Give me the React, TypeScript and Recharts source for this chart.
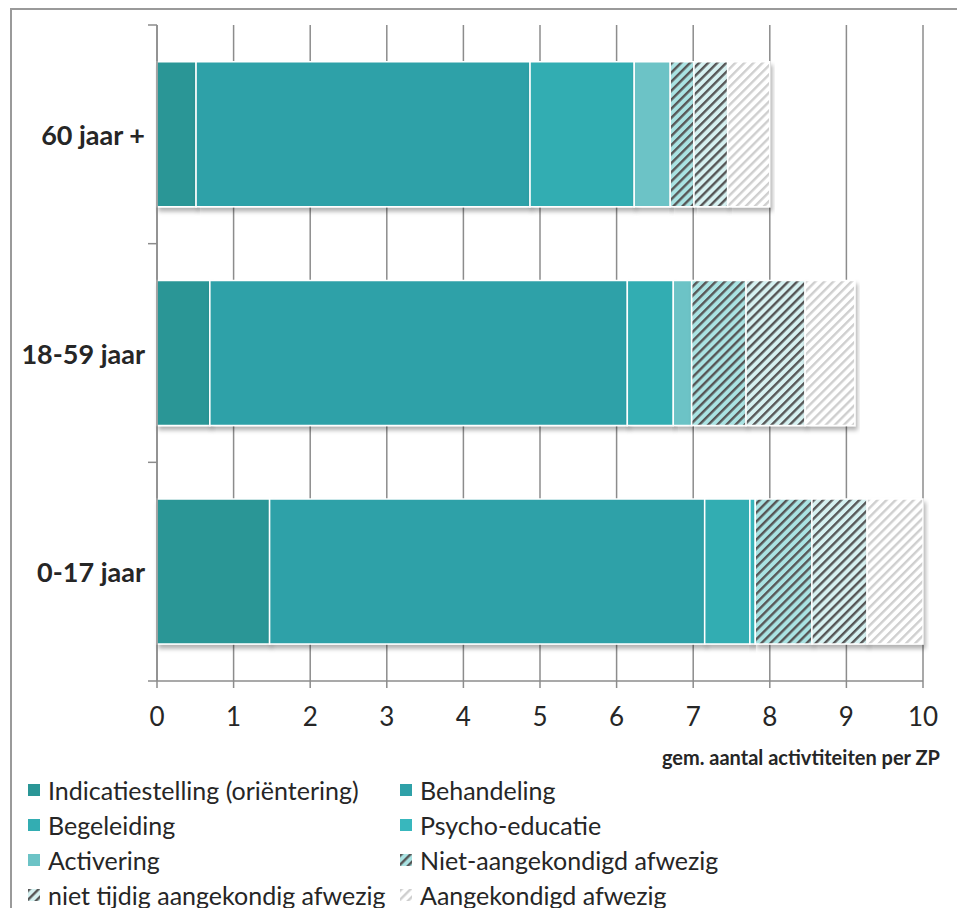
import React from 'react'
import { BarChart, Bar, XAxis, YAxis, CartesianGrid } from 'recharts'

const categories = ['60 jaar +', '18-59 jaar', '0-17 jaar']
const indicatie = [0.51, 0.69, 1.47]
const behandeling = [4.36, 5.45, 5.68]
const begeleiding = [1.36, 0.6, 0.59]
const psycho = [0, 0, 0.07]
const activering = [0.47, 0.24, 0]
const nietAangekondigd = [0.31, 0.71, 0.74]
const nietTijdig = [0.44, 0.77, 0.72]
const aangekondigd = [0.55, 0.65, 0.73]
const xTicks = [0, 1, 2, 3, 4, 5, 6, 7, 8, 9, 10]

const series = [
  { key: 'indicatie', name: 'Indicatiestelling (oriëntering)', fill: '#2a9696', values: indicatie },
  { key: 'behandeling', name: 'Behandeling', fill: '#2fa1a8', values: behandeling },
  { key: 'begeleiding', name: 'Begeleiding', fill: '#33adb2', values: begeleiding },
  { key: 'psycho', name: 'Psycho-educatie', fill: '#38b7bd', values: psycho },
  { key: 'activering', name: 'Activering', fill: '#6cc3c6', values: activering },
  { key: 'nietAangekondigd', name: 'Niet-aangekondigd afwezig', fill: 'url(#hatchA)', values: nietAangekondigd },
  { key: 'nietTijdig', name: 'niet tijdig aangekondig afwezig', fill: 'url(#hatchB)', values: nietTijdig },
  { key: 'aangekondigd', name: 'Aangekondigd afwezig', fill: 'url(#hatchC)', values: aangekondigd },
]

const data = categories.map((cat, i) => {
  const row: Record<string, string | number> = { cat }
  series.forEach((s) => (row[s.key] = s.values[i]))
  return row
})

const FONT = 'Lato, "Open Sans", sans-serif'
const AXIS_X = 157
const PLOT_TOP = 25
const PLOT_BOTTOM = 681
const BAND = (PLOT_BOTTOM - PLOT_TOP) / categories.length

function CategoryTick(props: any) {
  const { x, y, payload, index } = props
  return (
    <g>
      <text x={x} y={y} textAnchor="end" dominantBaseline="central" fontFamily={FONT} fontWeight={700} fontSize={27} fill="#262626">
        {payload.value}
      </text>
      <line x1={AXIS_X - 9} x2={AXIS_X} y1={y - BAND / 2} y2={y - BAND / 2} stroke="#8c8c8c" strokeWidth={1.5} />
      {index === categories.length - 1 && (
        <line x1={AXIS_X - 9} x2={AXIS_X} y1={y + BAND / 2} y2={y + BAND / 2} stroke="#8c8c8c" strokeWidth={1.5} />
      )}
    </g>
  )
}

function Defs() {
  const hatch = (id: string, bg: string, stripe: string) => (
    <pattern id={id} patternUnits="userSpaceOnUse" width={6.4} height={6.4} patternTransform="rotate(45)">
      <rect width={6.4} height={6.4} fill={bg} />
      <rect width={2.4} height={6.4} fill={stripe} />
    </pattern>
  )
  return (
    <svg width={0} height={0} style={{ position: 'absolute' }}>
      <defs>
        {hatch('hatchA', '#aae3e3', '#575757')}
        {hatch('hatchB', '#d6f1f1', '#575757')}
        {hatch('hatchC', '#ffffff', '#cfcfcf')}
        <filter id="barShadow" x="-5%" y="-5%" width="115%" height="125%">
          <feDropShadow dx={2} dy={4} stdDeviation={2} floodColor="#000" floodOpacity={0.3} />
        </filter>
      </defs>
    </svg>
  )
}

function LegendItem({ name, fill }: { name: string; fill: string }) {
  return (
    <div style={{ display: 'flex', alignItems: 'center', height: 35 }}>
      <svg width={12} height={12} style={{ marginRight: 8 }}>
        <rect width={12} height={12} fill={fill} />
      </svg>
      <span>{name}</span>
    </div>
  )
}

export default function App() {
  return (
    <div style={{ position: 'absolute', left: 0, top: 0, width: 957, height: 908, background: '#fff', overflow: 'hidden', fontFamily: FONT }}>
      <Defs />
      <style>{'.recharts-bar-rectangle { filter: url(#barShadow); }'}</style>
      <div style={{ position: 'absolute', left: 10, top: 8, width: 960, height: 920, borderLeft: '2px solid #9a9a9a', borderTop: '2px solid #9a9a9a' }} />
      <div style={{ position: 'absolute', left: 0, top: 0 }}>
        <BarChart
          width={957}
          height={760}
          data={data}
          layout="vertical"
          barCategoryGap="16.8%"
          margin={{ top: PLOT_TOP, right: 34, left: 0, bottom: 39 }}
        >
          <CartesianGrid horizontal={false} stroke="#8c8c8c" strokeWidth={1.5} />
          <XAxis
            type="number"
            domain={[0, 10]}
            ticks={xTicks}
            height={40}
            axisLine={{ stroke: '#8c8c8c', strokeWidth: 1.5 }}
            tickLine={{ stroke: '#8c8c8c', strokeWidth: 1.5 }}
            tickSize={7}
            tickMargin={20}
            tick={{ fontSize: 26, fill: '#262626', fontFamily: FONT }}
          />
          <YAxis
            type="category"
            dataKey="cat"
            width={AXIS_X}
            axisLine={{ stroke: '#8c8c8c', strokeWidth: 1.5 }}
            tickLine={false}
            tickSize={0}
            tickMargin={12}
            tick={<CategoryTick />}
          />
          {series.map((s) => (
            <Bar key={s.key} dataKey={s.key} name={s.name} stackId="a" fill={s.fill} stroke="#ffffff" strokeWidth={1.5} isAnimationActive={false} />
          ))}
        </BarChart>
      </div>
      <div style={{ position: 'absolute', right: 17, top: 745, fontSize: 20, fontWeight: 700, color: '#262626' }}>
        gem. aantal activtiteiten per ZP
      </div>
      <div style={{ position: 'absolute', left: 28, top: 772, fontSize: 25, color: '#262626', display: 'grid', gridTemplateColumns: '372px auto' }}>
        {series.map((s) => (
          <LegendItem key={s.key} name={s.name} fill={s.fill} />
        ))}
      </div>
    </div>
  )
}
